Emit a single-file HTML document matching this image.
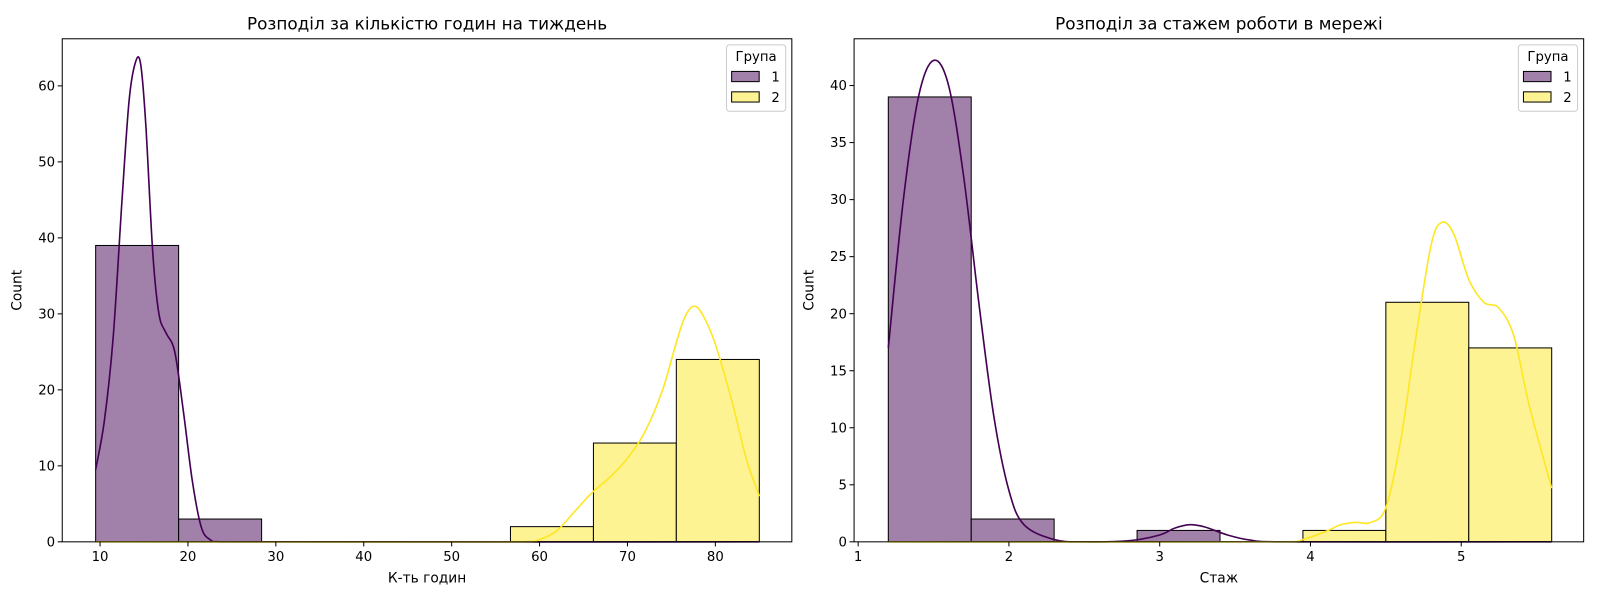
<!DOCTYPE html>
<html><head><meta charset="utf-8">
<style>body{margin:0;background:#fff}svg{display:block;font-family:"DejaVu Sans","Liberation Sans",sans-serif}</style>
</head><body>
<svg width="1600" height="600"><g id="c" transform="scale(1.0204)"></g></svg>
<script>
const hoursBinEdges=[9.5,18.94,28.38,37.81,47.25,56.69,66.13,75.56,85];
const hoursG1=[39,3,0,0,0,0,0,0];
const hoursG2=[0,0,0,0,0,2,13,24];
const hoursKdeG1=[[9.5,9.5],[10.5,16],[11.5,27],[12.5,45],[13.3,58],[14,63],[14.6,63],[15.2,55],[16,38],[16.7,30],[17.5,27.5],[18.5,25],[19.5,17],[20.5,8],[21.5,2],[22.5,0.3],[24,0],[85,0]];
const hoursKdeG2=[[9.5,0],[58,0],[60,0.3],[62,1.5],[64,4],[66,6.5],[68,8.5],[70,11],[72,14.5],[74,20],[75.5,26],[76.5,29.5],[77.5,31],[78.5,30],[80,26],[82,18],[83.5,11],[85,6]];
const hoursXTicks=[10,20,30,40,50,60,70,80];
const hoursYTicks=[0,10,20,30,40,50,60];
const expBinEdges=[1.2,1.75,2.3,2.85,3.4,3.95,4.5,5.05,5.6];
const expG1=[39,2,0,1,0,0,0,0];
const expG2=[0,0,0,0,0,1,21,17];
const expKdeG1=[[1.2,17],[1.3,30],[1.4,39],[1.5,42.2],[1.6,40],[1.7,32],[1.8,21],[1.9,11],[2.0,4.5],[2.1,1.5],[2.3,0.2],[2.5,0],[2.8,0.1],[3.0,0.6],[3.1,1.2],[3.2,1.5],[3.3,1.3],[3.45,0.6],[3.6,0.15],[3.8,0],[5.6,0]];
const expKdeG2=[[1.2,0],[3.85,0],[3.95,0.2],[4.1,0.9],[4.2,1.5],[4.3,1.7],[4.4,1.7],[4.5,3],[4.6,9],[4.7,18],[4.8,26],[4.87,28],[4.95,27],[5.05,23],[5.15,21],[5.25,20.5],[5.35,18],[5.45,12],[5.6,4.7]];
const expXTicks=[1,2,3,4,5];
const expYTicks=[0,5,10,15,20,25,30,35,40];

const svg=document.getElementById('c');
const NS='http://www.w3.org/2000/svg';
function mk(t,a,p){const e=document.createElementNS(NS,t);for(const k in a)e.setAttribute(k,a[k]);(p||svg).appendChild(e);return e;}
function smooth(pts){
  let d='M'+pts[0][0]+','+pts[0][1];
  for(let i=0;i<pts.length-1;i++){
    const p0=pts[i-1]||pts[i],p1=pts[i],p2=pts[i+1],p3=pts[i+2]||p2;
    const c1=[p1[0]+(p2[0]-p0[0])/6,p1[1]+(p2[1]-p0[1])/6];
    const c2=[p2[0]-(p3[0]-p1[0])/6,p2[1]-(p3[1]-p1[1])/6];
    c1[0]=Math.min(Math.max(c1[0],p1[0]),p2[0]);c2[0]=Math.min(Math.max(c2[0],p1[0]),p2[0]);
    d+=` C${c1[0]},${c1[1]} ${c2[0]},${c2[1]} ${p2[0]},${p2[1]}`;
  }
  return d;
}
function panel(o){
  const g=mk('g',{});
  
  
  const sx=v=>o.x0+(v-o.xmin)/(o.xmax-o.xmin)*(o.x1-o.x0);
  const sy=v=>o.y1-(v-0)/(o.ymax)*(o.y1-o.y0);
  const cols=[['#a180a9','#440154',o.g1,o.k1],['#fef392','#fde725',o.g2,o.k2]];
  cols.forEach((c,gi)=>{
    c[2].forEach((v,i)=>{
      if(v<=0){const l=mk('line',{x1:sx(o.edges[i]),x2:sx(o.edges[i+1]),y1:sy(0),y2:sy(0),stroke:'#000','stroke-width':1},g);
        return;}
      const r=mk('rect',{x:sx(o.edges[i]),y:sy(v),width:sx(o.edges[i+1])-sx(o.edges[i]),height:sy(0)-sy(v),fill:c[0],stroke:'#000','stroke-width':1},g);
      
      
    });
  });
  cols.forEach((c,gi)=>{
    const p=mk('path',{d:smooth(c[3].map(d=>[sx(d[0]),sy(d[1])])),fill:'none',stroke:c[1],'stroke-width':1.6},g);
    
    
  });
  const fr=mk('rect',{x:o.x0,y:o.y0,width:o.x1-o.x0,height:o.y1-o.y0,fill:'none',stroke:'#000','stroke-width':1},g);
  
  o.xt.forEach(v=>{const x=sx(v);mk('line',{x1:x,x2:x,y1:o.y1,y2:o.y1+4.5,stroke:'#000'},g);
    const t=mk('text',{x:x,y:o.y1+19,'text-anchor':'middle','font-size':13},g);t.textContent=v;
    });
  o.yt.forEach(v=>{const y=sy(v);mk('line',{x1:o.x0,x2:o.x0-4.5,y1:y,y2:y,stroke:'#000'},g);
    const t=mk('text',{x:o.x0-7,y:y+4.5,'text-anchor':'end','font-size':13},g);t.textContent=v;
    });
  let t=mk('text',{x:(o.x0+o.x1)/2,y:o.y0-9,'text-anchor':'middle','font-size':16.5},g);t.textContent=o.title;
  
  t=mk('text',{x:(o.x0+o.x1)/2,y:o.y1+40,'text-anchor':'middle','font-size':13.5},g);t.textContent=o.xlabel;
  
  t=mk('text',{x:0,y:0,'text-anchor':'middle','font-size':13.5,transform:`translate(${o.x0-40},${(o.y0+o.y1)/2}) rotate(-90)`},g);t.textContent='Count';
  
  const lx=o.x1-64,ly=o.y0+6;
  const lg=mk('g',{},g);
  mk('rect',{x:lx,y:ly,width:58,height:65,rx:3,fill:'#fff',stroke:'#ccc'},lg);
  t=mk('text',{x:lx+29,y:ly+16,'text-anchor':'middle','font-size':13},lg);t.textContent='Група';
  [['#a180a9','1'],['#fef392','2']].forEach((c,i)=>{
    const e=mk('g',{},lg);
    mk('rect',{x:lx+5,y:ly+26+i*20,width:27,height:10,fill:c[0],stroke:'#000'},e);
    const tt=mk('text',{x:lx+44,y:ly+36+i*20,'font-size':13},e);tt.textContent=c[1];
  });
}
panel({name:'hours-histogram',x0:61,x1:776,y0:38,y1:531,xmin:5.7,xmax:88.7,ymax:66.2,edges:hoursBinEdges,g1:hoursG1,g2:hoursG2,k1:hoursKdeG1,k2:hoursKdeG2,xt:hoursXTicks,yt:hoursYTicks,title:'Розподіл за кількістю годин на тиждень',xlabel:'К-ть годин'});
panel({name:'experience-histogram',x0:837,x1:1552,y0:38,y1:531,xmin:0.973,xmax:5.812,ymax:44.1,edges:expBinEdges,g1:expG1,g2:expG2,k1:expKdeG1,k2:expKdeG2,xt:expXTicks,yt:expYTicks,title:'Розподіл за стажем роботи в мережі',xlabel:'Стаж'});
</script>
</body></html>
